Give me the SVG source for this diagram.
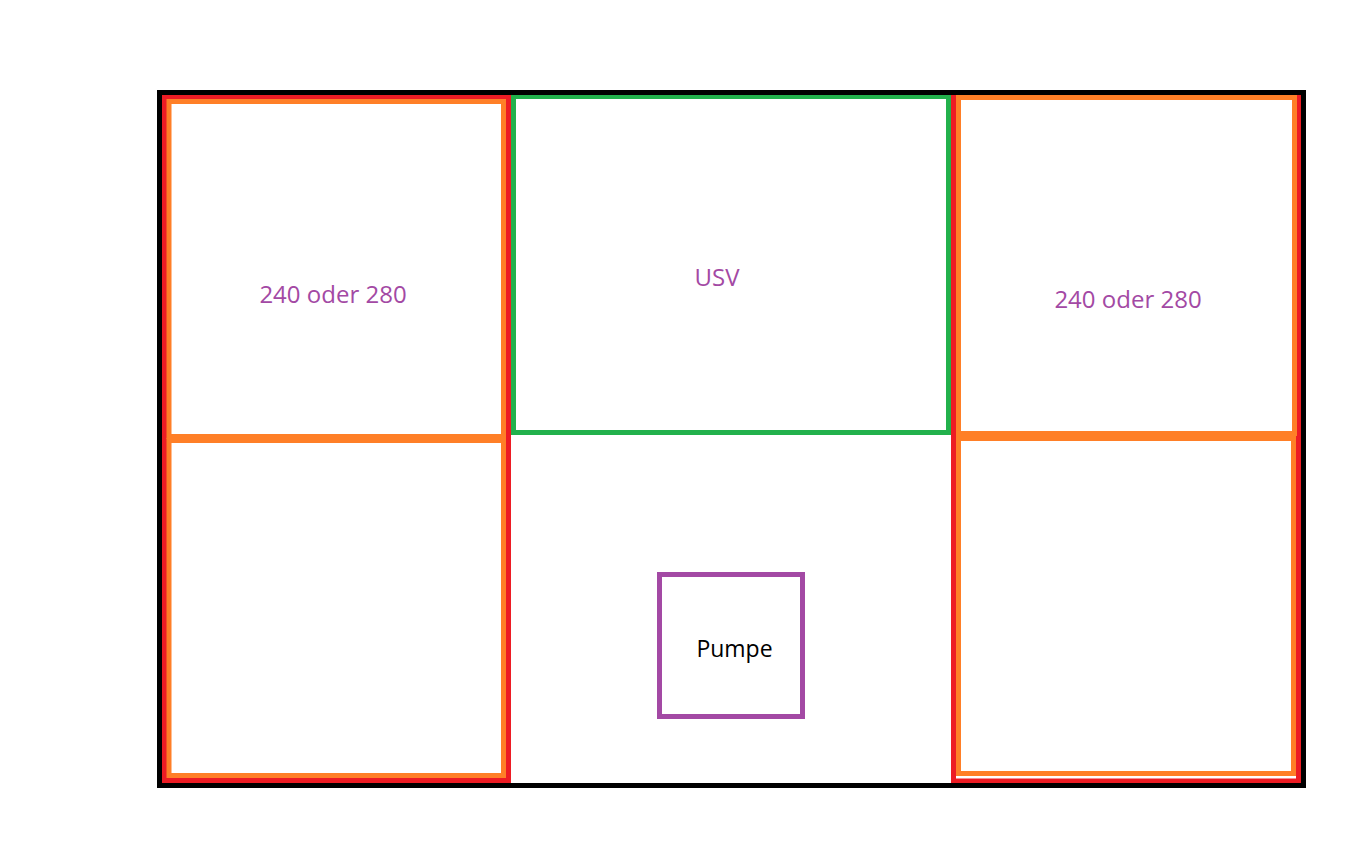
<svg xmlns="http://www.w3.org/2000/svg" width="1366" height="845" viewBox="0 0 1366 845">
<style>
rect{fill:none;stroke-width:5}
.red{stroke:#ed1c24}
.orange{stroke:#ff7f27}
.green{stroke:#22b14c}
.purple{stroke:#a349a4}
.black{stroke:#000}
text{font-family:"Open Sans","Noto Sans","Liberation Sans",sans-serif;font-size:24px;text-anchor:middle}
.lbl{fill:#a349a4}
</style>
<rect x="0" y="0" width="1366" height="845" style="fill:#fff;stroke:none"/>
<g id="left-zone"><rect class="red" x="164.5" y="97" width="344" height="683.5"/></g>
<g id="right-zone"><rect class="red" x="953.5" y="96" width="345" height="685"/></g>
<g id="left-top"><rect class="orange" x="169" y="101.5" width="334.5" height="335"/><text class="lbl" x="333" y="303">240 oder 280</text></g>
<g id="left-bottom"><rect class="orange" x="169" y="440.5" width="334.5" height="335"/></g>
<g id="usv"><rect class="green" x="513.5" y="96.5" width="435" height="336"/><text class="lbl" x="717" y="286">USV</text></g>
<g id="right-top"><rect class="orange" x="958.5" y="97.5" width="336" height="336"/><text class="lbl" x="1128" y="308">240 oder 280</text></g>
<g id="right-bottom"><rect class="orange" x="958.5" y="438.5" width="335" height="335"/></g>
<g id="pumpe"><rect class="purple" x="659.5" y="574.5" width="143" height="142"/><text x="734.5" y="657" style="font-size:23px" fill="#000">Pumpe</text></g>
<g id="frame"><rect class="black" x="159.5" y="92.5" width="1144" height="693"/></g>
<g id="connectors"></g>
</svg>
